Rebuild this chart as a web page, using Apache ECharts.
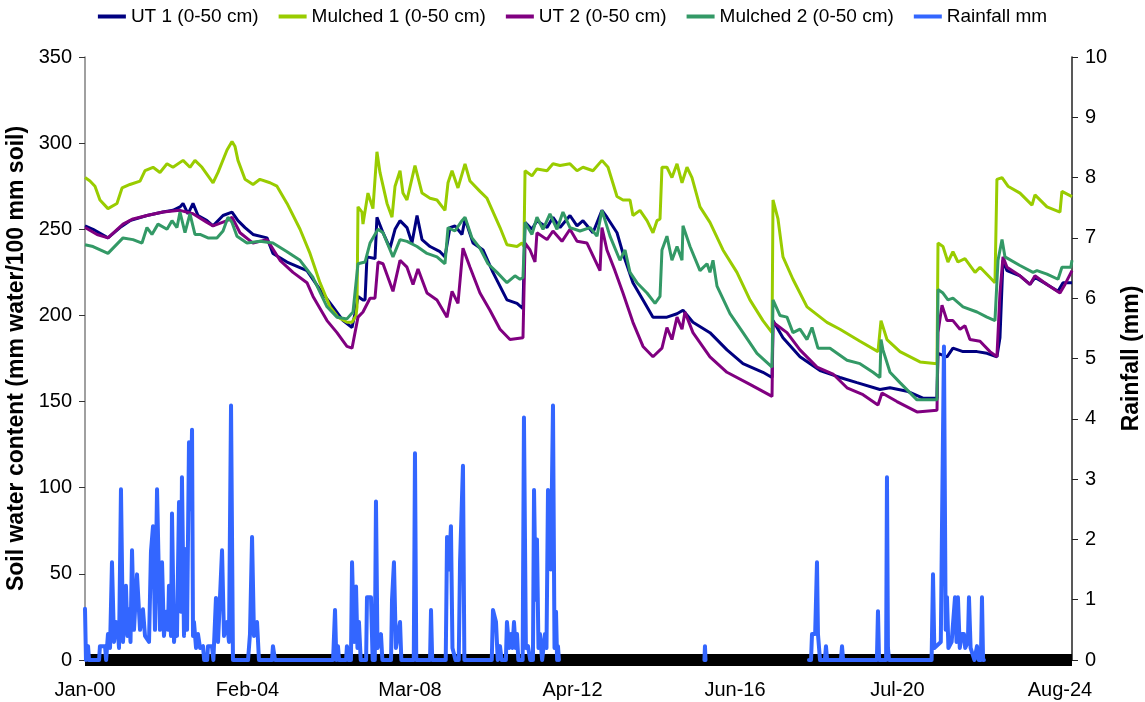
<!DOCTYPE html>
<html>
<head>
<meta charset="utf-8">
<title>Soil water content and rainfall</title>
<script src="https://cdn.jsdelivr.net/npm/echarts@6/dist/echarts.min.js"></script>
<style>
  html, body { margin: 0; padding: 0; background: #fff; }
  #chart { width: 1145px; height: 702px; }
</style>
</head>
<body>
<div id="chart"></div>
<script>
// x values are reading numbers (hourly), labels every 1500 readings
const xLabels = ['Jan-00', 'Feb-04', 'Mar-08', 'Apr-12', 'Jun-16', 'Jul-20', 'Aug-24'];
const seriesNames = ['UT 1 (0-50 cm)', 'Mulched 1 (0-50 cm)', 'UT 2 (0-50 cm)', 'Mulched 2 (0-50 cm)', 'Rainfall mm'];

// soil water content, [reading, mm water/100 mm soil]
const ut1 = [[0,252],[74,250],[212,245],[323,251],[415,255],[572,258],[720,260],[812,261],[877,263],[905,265],[951,259],[997,265],[1043,258],[1126,255],[1182,252],[1274,258],[1357,260],[1412,255],[1477,251],[1551,247],[1680,245],[1735,236],[1865,231],[2049,226],[2169,215],[2289,205],[2382,197],[2465,193],[2492,201],[2520,211],[2566,209],[2585,209],[2603,234],[2677,233],[2695,257],[2751,248],[2815,239],[2862,250],[2908,255],[2972,251],[3018,242],[3065,258],[3111,244],[3185,240],[3277,237],[3323,234],[3369,251],[3415,252],[3480,247],[3508,256],[3582,242],[3674,238],[3766,225],[3895,209],[3988,207],[4043,204],[4062,254],[4126,250],[4172,255],[4265,251],[4320,257],[4385,251],[4477,258],[4542,252],[4597,255],[4689,248],[4772,261],[4818,257],[4911,248],[4966,236],[5058,219],[5151,209],[5243,199],[5372,199],[5465,201],[5520,203],[5612,196],[5769,190],[5926,180],[6074,172],[6258,167],[6342,164],[6351,197],[6443,187],[6600,176],[6785,168],[6969,164],[7126,161],[7338,157],[7431,158],[7588,156],[7735,152],[7865,152],[7874,178],[7957,176],[8012,181],[8105,179],[8234,179],[8326,178],[8418,176],[8446,187],[8474,232],[8511,226],[8631,223],[8723,218],[8769,222],[8880,218],[8982,214],[9028,219],[9111,219]];

const mulched1 = [[0,280],[46,278],[92,275],[138,267],[212,262],[295,265],[342,274],[415,276],[508,278],[554,284],[628,286],[692,283],[757,288],[812,286],[905,290],[969,286],[1015,290],[1080,286],[1182,277],[1228,283],[1311,296],[1357,301],[1385,298],[1412,290],[1477,279],[1551,276],[1615,279],[1708,277],[1772,275],[1865,265],[1985,250],[2077,236],[2169,219],[2262,205],[2335,199],[2418,196],[2465,196],[2502,200],[2511,205],[2520,263],[2557,260],[2566,253],[2612,271],[2658,262],[2695,295],[2723,283],[2788,265],[2834,257],[2862,275],[2908,284],[2935,271],[2972,267],[3046,287],[3111,271],[3185,268],[3249,267],[3323,261],[3351,277],[3388,284],[3443,274],[3508,288],[3554,278],[3646,272],[3711,268],[3831,251],[3895,241],[3988,240],[4034,242],[4052,240],[4062,284],[4126,281],[4172,285],[4265,284],[4320,288],[4385,287],[4477,288],[4542,284],[4597,286],[4689,284],[4772,290],[4828,286],[4911,269],[4966,267],[5031,267],[5058,258],[5123,261],[5188,255],[5243,248],[5280,255],[5308,256],[5326,286],[5372,286],[5418,280],[5465,288],[5511,277],[5557,286],[5603,280],[5677,263],[5769,254],[5889,238],[6018,225],[6138,209],[6258,197],[6342,190],[6351,267],[6397,256],[6443,234],[6535,221],[6665,205],[6849,196],[6969,192],[7154,185],[7320,179],[7338,179],[7348,197],[7403,186],[7523,179],[7708,173],[7865,172],[7874,242],[7920,240],[7966,231],[8012,237],[8058,231],[8123,233],[8216,225],[8262,228],[8354,222],[8400,219],[8418,279],[8465,280],[8520,275],[8631,271],[8742,264],[8769,270],[8880,263],[9000,260],[9018,272],[9111,269]];

const ut2 = [[0,251],[111,247],[212,245],[351,253],[443,256],[572,258],[720,260],[877,261],[997,259],[1126,254],[1182,252],[1311,255],[1357,257],[1431,248],[1551,242],[1680,244],[1800,232],[1920,225],[2049,219],[2105,211],[2234,197],[2326,190],[2418,182],[2465,181],[2520,199],[2566,202],[2631,210],[2677,210],[2705,231],[2751,230],[2843,214],[2908,232],[2972,228],[3028,218],[3074,227],[3157,213],[3249,209],[3342,199],[3388,214],[3443,207],[3489,239],[3554,228],[3646,213],[3738,203],[3831,192],[3923,186],[4043,187],[4062,242],[4108,238],[4154,231],[4172,248],[4265,244],[4320,249],[4403,243],[4477,250],[4542,243],[4634,242],[4754,226],[4772,251],[4818,238],[4892,226],[4966,213],[5058,196],[5151,182],[5243,176],[5326,181],[5372,193],[5418,186],[5465,199],[5511,192],[5538,202],[5612,190],[5769,176],[5926,167],[6138,160],[6342,153],[6351,196],[6480,190],[6600,180],[6757,170],[6905,166],[7034,158],[7182,154],[7320,148],[7357,155],[7495,150],[7680,144],[7865,145],[7874,190],[7911,206],[7957,197],[8012,197],[8077,192],[8123,194],[8169,186],[8262,185],[8354,179],[8418,176],[8446,213],[8474,234],[8511,228],[8631,223],[8723,218],[8769,223],[8880,218],[9000,213],[9046,218],[9111,226]];

const mulched2 = [[0,241],[74,240],[212,236],[351,245],[443,244],[526,242],[572,251],[618,247],[674,253],[757,250],[803,255],[849,251],[877,260],[923,248],[969,259],[1015,247],[1062,247],[1135,245],[1218,245],[1274,249],[1320,257],[1357,254],[1403,246],[1495,242],[1615,243],[1735,242],[1865,237],[1985,232],[2105,222],[2234,205],[2326,199],[2418,198],[2474,202],[2520,230],[2585,231],[2631,242],[2705,250],[2751,248],[2843,234],[2908,244],[2972,243],[3065,240],[3157,236],[3249,234],[3323,230],[3351,251],[3415,249],[3480,255],[3508,257],[3572,245],[3646,239],[3720,230],[3803,225],[3895,219],[3969,223],[4015,221],[4043,222],[4062,254],[4126,247],[4172,257],[4228,250],[4292,259],[4357,250],[4412,260],[4477,251],[4569,249],[4662,251],[4726,246],[4772,261],[4846,246],[4938,232],[4985,238],[5031,225],[5095,219],[5188,213],[5262,207],[5308,211],[5326,238],[5372,246],[5418,232],[5465,240],[5511,232],[5520,252],[5585,240],[5677,226],[5742,230],[5769,225],[5797,232],[5834,217],[5954,201],[6074,190],[6203,178],[6342,170],[6351,209],[6415,200],[6480,199],[6535,190],[6600,192],[6665,186],[6711,193],[6766,181],[6877,181],[7034,174],[7154,172],[7274,167],[7338,164],[7348,186],[7366,180],[7431,167],[7523,161],[7680,151],[7865,151],[7874,215],[7920,213],[7966,209],[8012,210],[8105,205],[8234,202],[8326,199],[8400,197],[8428,232],[8465,244],[8492,234],[8631,229],[8751,225],[8788,226],[8880,224],[8982,221],[9018,228],[9100,228],[9111,232]];

// rainfall, [reading, mm]; null = no record
const rainfall = [
  [0,0.85],[9,0],[28,0.23],[37,0],
  [130,0],[138,0.23],[185,0.23],[195,0],
  [203,0],[212,0.43],[231,0.2],[249,1.62],[268,0.3],[286,0.63],[305,0.43],[314,0.2],[332,2.83],[351,0.3],[378,1.23],[392,0.4],[406,0.84],[420,0.3],[434,1.82],[452,0.5],[480,1.42],[508,0.5],[535,0.84],[554,0.4],[572,0.43],[591,0.3],[609,1.8],[628,2.22],[646,0.5],[665,2.83],[692,0.5],[711,1.62],[729,0.4],[748,0.8],[766,0.5],[775,1.23],[794,0.4],[803,2.43],[822,0.3],[831,0.6],[849,0.4],[868,2.62],[886,0.8],[895,3.03],[914,0.4],[923,1.84],[942,0.5],[960,3.61],[975,2.5],[988,3.82],[997,0.4],[1006,0.63],[1025,0.2],[1043,0.43],[1062,0.2],[1089,0.23],[1100,0],
  [1128,0],[1135,0.23],[1172,0.23],[1185,0],[1200,0],[1209,1.03],[1228,0.3],[1265,1.82],[1283,0.4],[1311,0.63],[1329,0.3],[1348,4.22],[1366,0],
  [1505,0],[1523,0.43],[1542,2.04],[1560,0.4],[1588,0.63],[1606,0],
  [1726,0],[1735,0.23],[1754,0],
  [2290,0],[2308,0.83],[2320,0],[2335,0.23],[2345,0],
  [2410,0],[2418,0.23],[2430,0],[2455,0],[2465,1.62],[2484,0.3],[2502,1.22],[2515,0.2],[2529,0.63],[2545,0],
  [2595,0],[2603,1.04],[2640,1.04],[2655,0],[2675,0],[2686,2.63],[2700,0.2],[2732,0.43],[2745,0],
  [2825,0],[2834,1.0],[2852,1.62],[2870,0.2],[2908,0.63],[2920,0],
  [3035,0],[3046,3.43],[3058,0],
  [3185,0],[3194,0.83],[3205,0],
  [3330,0],[3342,2.04],[3360,1.5],[3378,2.22],[3392,0.2],[3406,0.23],[3420,0],[3450,0],[3462,1.62],[3489,3.22],[3502,0],
  [3755,0],[3766,0.83],[3794,0.63],[3810,0],[3831,0.23],[3845,0],[3885,0],[3895,0.63],[3915,0.2],[3932,0.43],[3946,0.2],[3960,0.63],[3975,0.2],[3988,0.43],[4000,0],
  [4040,0],[4052,4.02],[4070,0.2],[4089,0.23],[4110,0],[4135,0],[4145,2.82],[4160,1.0],[4172,2.0],[4186,0.2],[4200,0.43],[4220,0],[4237,0],[4246,0.43],[4260,0.2],[4274,2.82],[4300,1.5],[4320,4.22],[4334,0.2],[4348,0.8],[4358,0],[4366,0.23],[4375,0],
  [4380,null],
  [5718,0],[5723,0.23],[5728,0],
  [5735,null],
  [6683,0],[6702,0],[6711,0.43],[6740,0.43],[6757,1.62],[6766,0.43],[6775,0.43],[6785,0],[6830,0],[6840,0.23],[6850,0],[6978,0],[6988,0.23],[6998,0],
  [7310,0],[7320,0.81],[7330,0],[7395,0],[7403,3.03],[7412,0.2],[7422,0],
  [7815,0],[7828,1.42],[7840,0.2],[7900,0.3],[7911,2.22],[7929,5.2],[7945,0.5],[7957,1.04],[7970,0.2],[7985,0.2],[8000,0.3],[8031,1.04],[8045,0.3],[8058,1.04],[8075,0.2],[8095,0.43],[8114,0.43],[8125,0.2],[8150,0.3],[8160,1.04],[8175,0.2],[8210,0],[8234,0.23],[8250,0],[8270,0],[8280,1.04],[8290,0],[8298,0]
];

const colors = ['#000080', '#99cc00', '#800080', '#339966', '#3366ff'];
const font = '"Liberation Sans", Arial, sans-serif';

const chart = echarts.init(document.getElementById('chart'));

function soilLine(name, data, color) {
  return {
    name: name,
    type: 'line',
    data: data,
    yAxisIndex: 0,
    showSymbol: false,
    symbol: 'none',
    lineStyle: { color: color, width: 3 },
    itemStyle: { color: color }
  };
}

chart.setOption({
  animation: false,
  color: colors,
  textStyle: { fontFamily: font },
  grid: { left: 85, right: 73, top: 57, bottom: 42, containLabel: false, outerBoundsMode: 'none' },
  legend: {
    top: 2,
    left: 'center',
    icon: 'rect',
    itemWidth: 28,
    itemHeight: 4,
    itemGap: 20,
    textStyle: { fontSize: 19, color: '#000', fontFamily: font },
    data: seriesNames
  },
  xAxis: {
    type: 'value',
    min: 0,
    max: 9111,
    interval: 1500,
    splitLine: { show: false },
    axisTick: { show: false },
    axisLine: { lineStyle: { color: '#000', width: 12, cap: 'butt' } },
    axisLabel: {
      color: '#000',
      fontSize: 20,
      margin: 20,
      formatter: function (v) {
        return v % 1500 === 0 ? xLabels[v / 1500] : '';
      }
    }
  },
  yAxis: [
    {
      type: 'value',
      min: 0,
      max: 350,
      interval: 50,
      name: 'Soil water content (mm water/100 mm soil)',
      nameLocation: 'middle',
      nameGap: 56,
      nameRotate: 90,
      nameTextStyle: { fontSize: 23, fontWeight: 'bold', color: '#000' },
      splitLine: { show: false },
      axisLine: { show: true, onZero: false, lineStyle: { color: '#808080', width: 1.5 } },
      axisTick: { show: true, length: 6, lineStyle: { color: '#333' } },
      axisLabel: { color: '#000', fontSize: 20, margin: 13 }
    },
    {
      type: 'value',
      min: 0,
      max: 10,
      interval: 1,
      name: 'Rainfall (mm)',
      nameLocation: 'middle',
      nameGap: 48,
      nameRotate: 90,
      nameTextStyle: { fontSize: 23, fontWeight: 'bold', color: '#000' },
      splitLine: { show: false },
      axisLine: { show: true, onZero: false, lineStyle: { color: '#222', width: 1.5 } },
      axisTick: { show: true, length: 6, lineStyle: { color: '#222' } },
      axisLabel: { color: '#000', fontSize: 20, margin: 13 }
    }
  ],
  series: [
    soilLine(seriesNames[0], ut1, colors[0]),
    soilLine(seriesNames[1], mulched1, colors[1]),
    soilLine(seriesNames[2], ut2, colors[2]),
    soilLine(seriesNames[3], mulched2, colors[3]),
    {
      name: seriesNames[4],
      type: 'line',
      yAxisIndex: 1,
      data: rainfall,
      showSymbol: false,
      symbol: 'none',
      connectNulls: false,
      lineStyle: { color: colors[4], width: 4, cap: 'round', join: 'round' },
      itemStyle: { color: colors[4] }
    }
  ]
});
</script>
</body>
</html>
